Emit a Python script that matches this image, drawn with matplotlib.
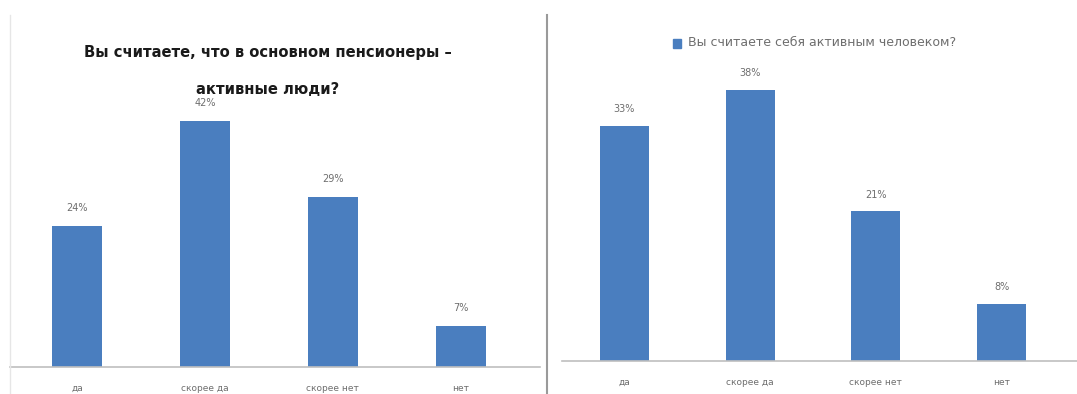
import matplotlib.pyplot as plt
from matplotlib.lines import Line2D
from matplotlib.patches import Rectangle
from matplotlib import font_manager

# data
categories = ['да', 'скорее да', 'скорее нет', 'нет']
left_values = [24, 42, 29, 7]
right_values = [33, 38, 21, 8]
left_title = ['Вы считаете, что в основном пенсионеры –', 'активные люди?']
right_legend = 'Вы считаете себя активным человеком?'

BAR_COLOR = '#4a7ebf'
TEXT_GRAY = '#6e6e6e'
AXIS_GRAY = '#bfbfbf'

# narrow bold face for the left title, if one is installed
names = {f.name for f in font_manager.fontManager.ttflist}
TITLE_FAMILY = 'Liberation Sans Narrow' if 'Liberation Sans Narrow' in names else 'DejaVu Sans'

W, H = 1077, 394
fig = plt.figure(figsize=(W / 100, H / 100), dpi=100)
fig.patch.set_facecolor('white')


def px_axes(x0, x1, y_base, y_top):
    # axes placed by pixel box (y measured from the top of the image)
    return fig.add_axes([x0 / W, (H - y_base) / H, (x1 - x0) / W, (y_base - y_top) / H])


def bar_panel(ax, values, xlim, ylim, label_pad, tick_pad):
    x = range(len(values))
    ax.bar(x, values, width=0.39, color=BAR_COLOR, zorder=2)
    ax.set_xlim(*xlim)
    ax.set_ylim(0, ylim)
    for s in ['top', 'right', 'left']:
        ax.spines[s].set_visible(False)
    ax.spines['bottom'].set_color(AXIS_GRAY)
    ax.spines['bottom'].set_linewidth(1.2)
    ax.set_yticks([])
    ax.set_xticks(list(x))
    ax.set_xticklabels(categories, fontsize=6.5, color=TEXT_GRAY)
    ax.tick_params(axis='x', length=0, pad=tick_pad)
    for xi, v in zip(x, values):
        ax.annotate(f'{v}%', (xi, v), xytext=(0, label_pad), textcoords='offset points',
                    ha='center', va='center', fontsize=7, color=TEXT_GRAY)


# left chart
ax1 = px_axes(10, 540, 367, 15)
bar_panel(ax1, left_values, (-0.523, 3.62), 60.1, 13, 12)
title_kw = dict(ha='center', va='center', fontweight='bold', family=TITLE_FAMILY,
                fontstretch='condensed', color='#1a1a1a')
fig.text(268 / W, 1 - 52 / H, left_title[0], fontsize=11.8, **title_kw)
fig.text(268 / W, 1 - 89 / H, left_title[1], fontsize=11.8, **title_kw)

# right chart
ax2 = px_axes(562, 1077, 361, 15)
bar_panel(ax2, right_values, (-0.497, 3.6), 48.5, 12, 12)
fig.add_artist(Rectangle((673 / W, 1 - 48 / H), 8 / W, 9 / H, transform=fig.transFigure,
                         color=BAR_COLOR))
fig.text(688 / W, 1 - 43 / H, right_legend, ha='left', va='center', fontsize=9,
         color=TEXT_GRAY)

# frame lines between / around panels
fig.add_artist(Line2D([547 / W, 547 / W], [0, 1 - 15 / H], transform=fig.transFigure,
                      color='#9a9a9a', linewidth=1.5))
fig.add_artist(Line2D([10 / W, 10 / W], [0, 1 - 15 / H], transform=fig.transFigure,
                      color='#e6e6e6', linewidth=1))

fig.savefig('out.png', dpi=100, facecolor='white')
